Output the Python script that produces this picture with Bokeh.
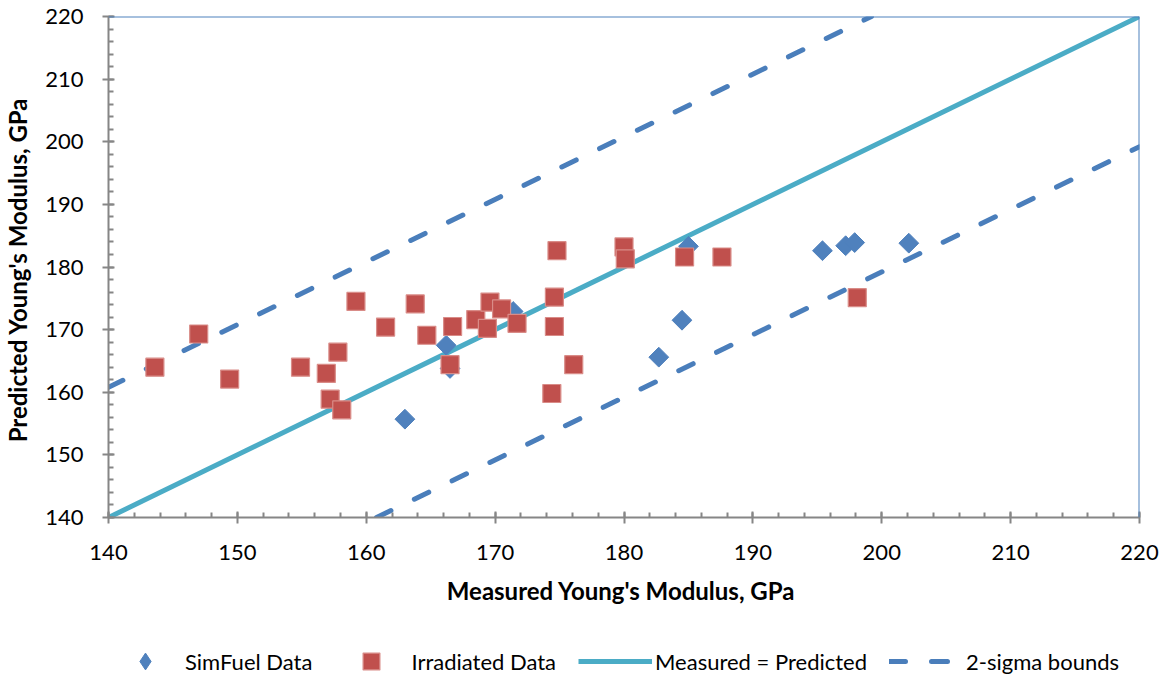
import math
from bokeh.plotting import figure
from bokeh.layouts import column
from bokeh.models import Range1d, FixedTicker, Span, Legend, LegendItem
from bokeh.embed import file_html
from bokeh.resources import INLINE

# ---- data ----
simfuel_x = [163.0, 166.2, 166.5, 171.4, 182.7, 184.5, 185.0, 195.4, 197.2, 197.9, 202.1]
simfuel_y = [155.7, 167.5, 163.8, 172.9, 165.6, 171.5, 183.3, 182.6, 183.4, 183.9, 183.8]

irr_x = [143.6, 147.0, 149.4, 154.9, 156.9, 157.2, 157.8, 158.1, 159.2, 161.5,
         163.8, 164.7, 166.5, 166.7, 168.5, 169.6, 169.4, 170.5, 171.7, 174.4,
         174.6, 174.6, 174.8, 176.1, 180.0, 180.1, 184.7, 187.6, 198.1]
irr_y = [164.0, 169.3, 162.1, 164.0, 163.0, 158.9, 166.4, 157.2, 174.5, 170.4,
         174.1, 169.1, 164.4, 170.5, 171.6, 174.4, 170.2, 173.3, 171.0, 159.8,
         170.5, 175.2, 182.6, 164.4, 183.2, 181.3, 181.6, 181.6, 175.1]

ref_x = [140, 220]
ref_y = [140, 220]
upper_x = [140, 199.2]
upper_y = [160.8, 220]
lower_x = [160.8, 220]
lower_y = [140, 199.2]

axis_ticks = [140, 150, 160, 170, 180, 190, 200, 210, 220]
minor_ticks = list(range(140, 221, 2))

legend_labels = ["SimFuel Data", "Irradiated Data", "Measured = Predicted", "2-sigma bounds"]

FONT = "Lato"
AXIS_GRAY = "#868686"
SIM_COLOR = "#4F81BD"
IRR_COLOR = "#C0504D"
REF_COLOR = "#4BACC6"
BND_COLOR = "#4A7EBB"

p = figure(frame_width=1031, frame_height=501,
           x_range=Range1d(140, 220), y_range=Range1d(140, 220),
           output_backend="svg", toolbar_location=None,
           min_border_left=99, min_border_right=21, min_border_top=16, min_border_bottom=120,
           background_fill_color="white", border_fill_color="white",
           outline_line_color=None)
p.xgrid.visible = False
p.ygrid.visible = False

for ax in (p.xaxis[0], p.yaxis[0]):
    ax.ticker = FixedTicker(ticks=axis_ticks, minor_ticks=minor_ticks)
    ax.axis_line_color = AXIS_GRAY
    ax.axis_line_width = 2
    ax.major_tick_line_color = AXIS_GRAY
    ax.major_tick_line_width = 2
    ax.minor_tick_line_color = AXIS_GRAY
    ax.minor_tick_line_width = 2
    ax.major_tick_in = 6
    ax.major_tick_out = 6
    ax.minor_tick_in = 5
    ax.minor_tick_out = 0
    ax.major_label_text_font = FONT
    ax.major_label_text_font_size = "22px"
    ax.major_label_text_color = "black"
    ax.axis_label_text_font = FONT
    ax.axis_label_text_font_size = "24px"
    ax.axis_label_text_font_style = "bold"
    ax.axis_label_text_color = "black"

p.xaxis.axis_label = "Measured Young's Modulus,  GPa"
p.yaxis.axis_label = "Predicted Young's Modulus,  GPa"
p.xaxis.major_label_standoff = 21
p.xaxis.axis_label_standoff = 13
p.yaxis.major_label_standoff = 19
p.yaxis.axis_label_standoff = 10

p.add_layout(Span(location=220, dimension="width", line_color=SIM_COLOR, line_width=2))
p.add_layout(Span(location=220, dimension="height", line_color=SIM_COLOR, line_width=2))


def draw_series(fig, sim_marker, sim_size, sim_angle):
    r_ref = fig.line(ref_x, ref_y, line_color=REF_COLOR, line_width=5)
    r_up = fig.line(upper_x, upper_y, line_color=BND_COLOR, line_width=5,
                    line_dash="16 26", line_cap="round")
    fig.line(lower_x, lower_y, line_color=BND_COLOR, line_width=5,
             line_dash="16 26", line_cap="round")
    r_sim = fig.scatter(simfuel_x, simfuel_y, marker=sim_marker, size=sim_size, angle=sim_angle,
                        fill_color=SIM_COLOR, line_color=SIM_COLOR, line_width=1)
    r_irr = fig.scatter(irr_x, irr_y, marker="square", size=18,
                        fill_color=IRR_COLOR, line_color="#D98C88", line_width=1.2)
    return r_sim, r_irr, r_ref, r_up


draw_series(p, "square", 14, math.pi / 4)

# ---- legend strip (a second figure below the chart; its own copies of the
# series lie outside its 0..1 ranges, so only the legend entries show) ----
lf = figure(width=1151, height=48, x_range=Range1d(0, 1), y_range=Range1d(0, 1),
            output_backend="svg", toolbar_location=None,
            x_axis_location=None, y_axis_location=None,
            min_border=0, outline_line_color=None,
            background_fill_color="white", border_fill_color="white")
lf.xgrid.visible = False
lf.ygrid.visible = False
l_renderers = draw_series(lf, "diamond", 18, 0)

legend = Legend(items=[LegendItem(label=lab, renderers=[r])
                       for lab, r in zip(legend_labels, l_renderers)],
                orientation="horizontal", location=(0, 3),
                glyph_width=74, glyph_height=42, label_standoff=3, spacing=22,
                label_text_font=FONT, label_text_font_size="22px", label_text_color="black",
                border_line_color=None, background_fill_alpha=0, padding=0, margin=0)
lf.add_layout(legend, "center")

layout = column(p, lf, spacing=0)
open("out.html", "w").write(file_html(layout, INLINE))
